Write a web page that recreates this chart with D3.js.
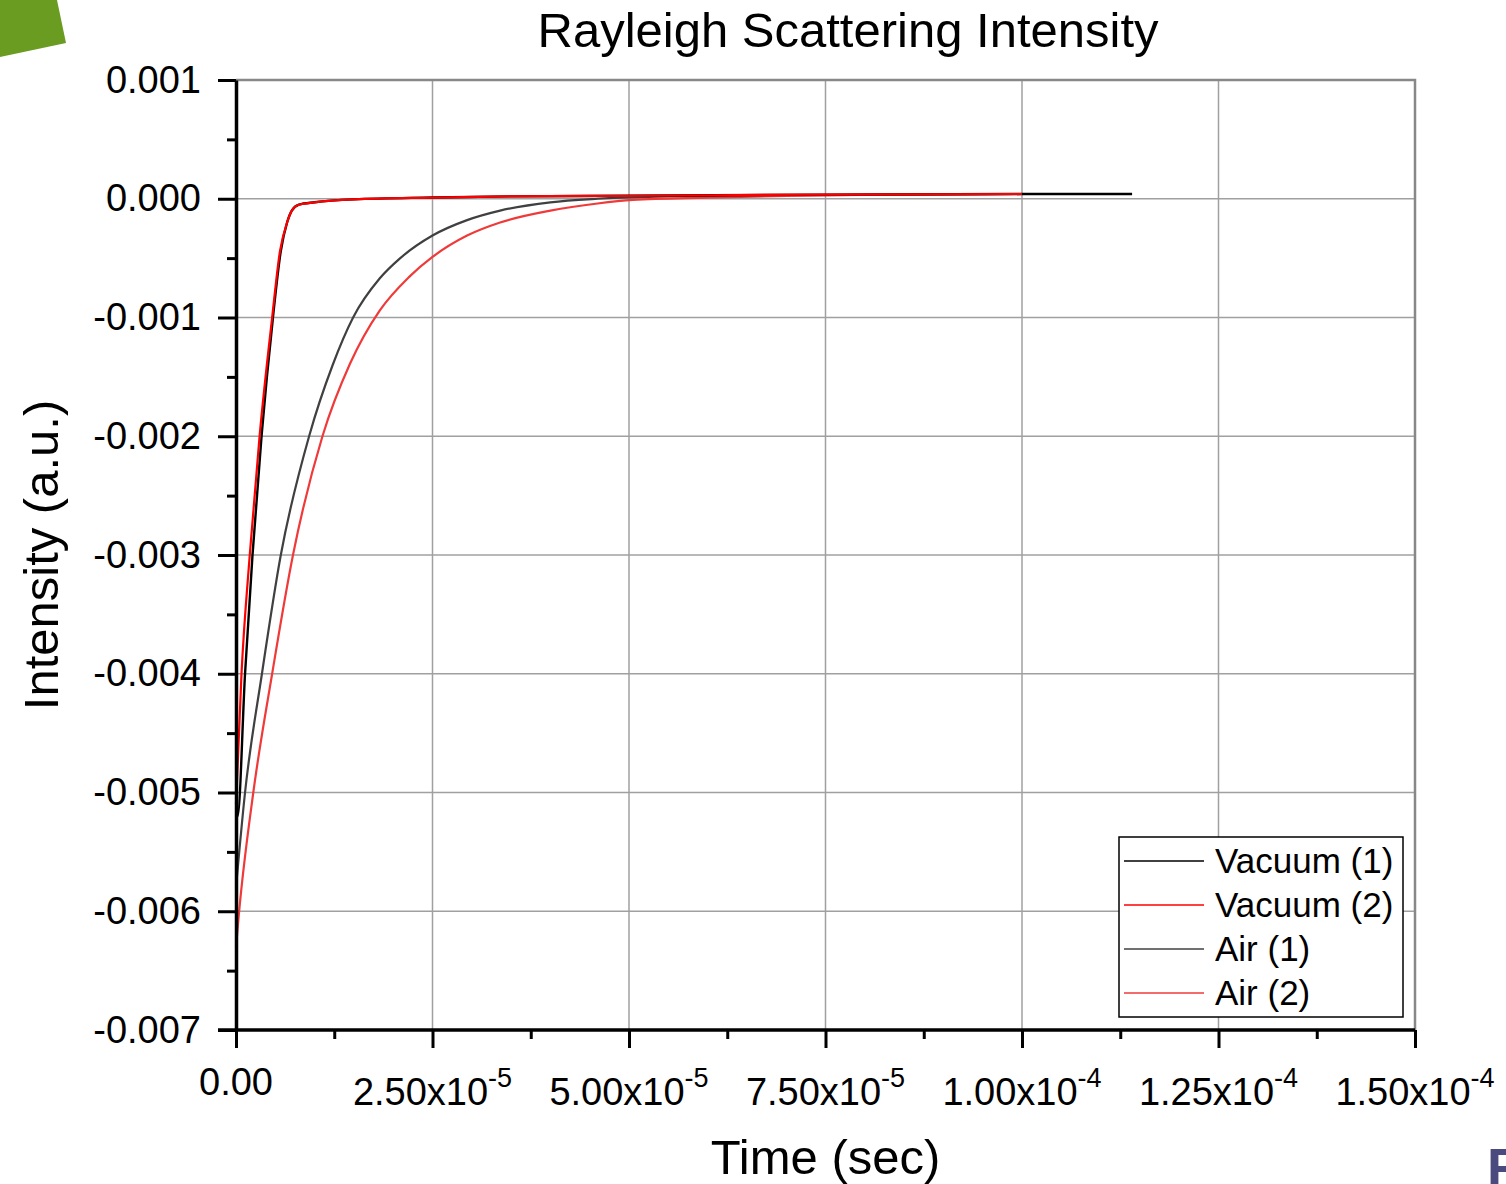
<!DOCTYPE html>
<html>
<head>
<meta charset="utf-8">
<script src="https://cdn.jsdelivr.net/npm/d3@7"></script>
<style>
  html, body { margin: 0; padding: 0; background: #fff; }
  svg { display: block; font-family: "Liberation Sans", Arial, sans-serif; }
</style>
</head>
<body>
<svg id="chart" width="1506" height="1184"></svg>
<script>
// ---------- data ----------
const seriesNames = ["Vacuum (1)", "Vacuum (2)", "Air (1)", "Air (2)"];
const seriesColors = ["#000000", "#ff0000", "#404040", "#f03a3a"];

const vac1Time = [0, 0.2e-6, 1.15e-6, 2.1e-6, 3.25e-6, 4.7e-6, 5.7e-6, 6.5e-6, 7.1e-6, 8.0e-6, 1.0e-5, 1.5e-5, 2.5e-5, 3.5e-5, 5.0e-5, 7.5e-5, 1.0e-4, 1.14e-4];
const vac1Val  = [-0.0052, -0.0052, -0.0040, -0.0030, -0.0020, -0.0010, -0.00044, -0.0002, -0.0001, -0.00005, -0.00003, -0.000005, 0.00001, 0.00002, 0.000025, 0.000035, 0.00004, 0.00004];

const vac2Time = [0, 0.7e-6, 1.75e-6, 3.0e-6, 4.6e-6, 5.6e-6, 6.5e-6, 7.1e-6, 8.0e-6, 1.0e-5, 1.5e-5, 2.5e-5, 3.5e-5, 5.0e-5, 7.5e-5, 1.0e-4];
const vac2Val  = [-0.0051, -0.0040, -0.0030, -0.0020, -0.0010, -0.00044, -0.0002, -0.0001, -0.00005, -0.00003, -0.000005, 0.00001, 0.00002, 0.000025, 0.000035, 0.00004];

const air1Time = [0, 1.15e-6, 3.3e-6, 5.7e-6, 9.3e-6, 1.23e-5, 1.49e-5, 1.83e-5, 2.09e-5, 2.5e-5, 2.94e-5, 3.36e-5, 4.0e-5, 4.6e-5, 5.5e-5, 7.5e-5, 1.0e-4, 1.14e-4];
const air1Val  = [-0.0058, -0.0050, -0.0040, -0.0030, -0.0020, -0.00140, -0.0010, -0.00067, -0.00050, -0.00031, -0.00018, -0.00010, -0.00003, 0.0, 0.00002, 0.00003, 0.00004, 0.00004];

const air2Time = [0, 0.4e-6, 2.2e-6, 4.6e-6, 7.25e-6, 1.1e-5, 1.45e-5, 1.83e-5, 2.2e-5, 2.5e-5, 2.94e-5, 3.36e-5, 4.0e-5, 4.6e-5, 5.05e-5, 6.0e-5, 7.5e-5, 1.0e-4, 1.14e-4];
const air2Val  = [-0.0063, -0.0060, -0.0050, -0.0040, -0.0030, -0.0020, -0.00139, -0.00094, -0.00066, -0.00049, -0.00031, -0.00020, -0.00010, -0.00004, -0.00001, 0.00001, 0.00003, 0.00004, 0.00004];

const yTicks = [0.001, 0, -0.001, -0.002, -0.003, -0.004, -0.005, -0.006, -0.007];
const yTickLabels = ["0.001", "0.000", "-0.001", "-0.002", "-0.003", "-0.004", "-0.005", "-0.006", "-0.007"];
const yMinorTicks = [0.0005, -0.0005, -0.0015, -0.0025, -0.0035, -0.0045, -0.0055, -0.0065];
const xTicks = [0, 2.5e-5, 5.0e-5, 7.5e-5, 1.0e-4, 1.25e-4, 1.5e-4];
const xTickMantissa = ["0.00", "2.50x10", "5.00x10", "7.50x10", "1.00x10", "1.25x10", "1.50x10"];
const xTickExponent = ["", "-5", "-5", "-5", "-4", "-4", "-4"];
const xMinorTicks = [1.25e-5, 3.75e-5, 6.25e-5, 8.75e-5, 1.125e-4, 1.375e-4];

const titleText = "Rayleigh Scattering Intensity";
const xLabelText = "Time (sec)";
const yLabelText = "Intensity (a.u.)";

// ---------- layout ----------
const L = 236, R = 1415, T = 80, B = 1030;
const svg = d3.select("#chart");

const x = d3.scaleLinear().domain([0, 1.5e-4]).range([L, R]);
const y = d3.scaleLinear().domain([-0.007, 0.001]).range([B, T]);

// decorative green corner shape
svg.append("polygon")
  .attr("points", "0,0 57,0 66,43 0,57")
  .attr("fill", "#6a9c22");

// grid
const grid = svg.append("g");
grid.selectAll("line.v").data(xTicks.slice(1)).join("line")
  .attr("x1", d => x(d)).attr("x2", d => x(d))
  .attr("y1", T).attr("y2", B)
  .attr("stroke", "#a0a0a0").attr("stroke-width", 1.5);
grid.selectAll("line.h").data(yTicks.slice(0, -1)).join("line")
  .attr("x1", L).attr("x2", R)
  .attr("y1", d => y(d)).attr("y2", d => y(d))
  .attr("stroke", "#a0a0a0").attr("stroke-width", 1.5);
// top & right frame
svg.append("path")
  .attr("d", `M${L},${T}H${R}V${B}`)
  .attr("fill", "none").attr("stroke", "#888").attr("stroke-width", 2.5);

// series
const lineGen = d3.line().x(d => x(d[0])).y(d => y(d[1])).curve(d3.curveMonotoneX);
const zip = (a, b) => a.map((t, i) => [t, b[i]]);
const series = [
  { name: seriesNames[2], data: zip(air1Time, air1Val), color: seriesColors[2], w: 2.2 },
  { name: seriesNames[3], data: zip(air2Time, air2Val), color: seriesColors[3], w: 2.2 },
  { name: seriesNames[0], data: zip(vac1Time, vac1Val), color: seriesColors[0], w: 2.4 },
  { name: seriesNames[1], data: zip(vac2Time, vac2Val), color: seriesColors[1], w: 2.2 }
];
svg.append("g").selectAll("path").data(series).join("path")
  .attr("d", d => lineGen(d.data))
  .attr("fill", "none")
  .attr("stroke", d => d.color)
  .attr("stroke-width", d => d.w)
  .attr("stroke-linejoin", "round");

// y axis
const yAxis = d3.axisLeft(y).tickValues(yTicks).tickSize(18).tickSizeOuter(0)
  .tickFormat((d, i) => yTickLabels[i]).tickPadding(17);
const gy = svg.append("g").attr("transform", `translate(${L},0)`).call(yAxis);
gy.select(".domain").attr("stroke", "#000").attr("stroke-width", 3.5);
gy.selectAll(".tick line").attr("stroke", "#000").attr("stroke-width", 3);
gy.selectAll(".tick text").attr("font-size", 38).attr("fill", "#000")
  .attr("font-family", "'Liberation Sans', Arial, sans-serif");
const gyMinor = d3.axisLeft(y).tickValues(yMinorTicks).tickSize(9).tickSizeOuter(0).tickFormat("");
const gym = svg.append("g").attr("transform", `translate(${L},0)`).call(gyMinor);
gym.select(".domain").remove();
gym.selectAll(".tick line").attr("stroke", "#000").attr("stroke-width", 3);

// x axis
const xAxis = d3.axisBottom(x).tickValues(xTicks).tickSize(18).tickSizeOuter(0).tickFormat("");
const gx = svg.append("g").attr("transform", `translate(0,${B})`).call(xAxis);
gx.select(".domain").attr("stroke", "#000").attr("stroke-width", 3.5)
  .attr("d", `M${L - 18},0H${R}`);
gx.selectAll(".tick line").attr("stroke", "#000").attr("stroke-width", 3);
const xMinor = d3.axisBottom(x).tickValues(xMinorTicks).tickSize(9).tickSizeOuter(0).tickFormat("");
const gxm = svg.append("g").attr("transform", `translate(0,${B})`).call(xMinor);
gxm.select(".domain").remove();
gxm.selectAll(".tick line").attr("stroke", "#000").attr("stroke-width", 3);

// x tick labels with superscripts
const xl = svg.append("g").attr("font-size", 38).attr("fill", "#000");
xTicks.forEach((t, i) => {
  const txt = xl.append("text")
    .attr("x", x(t))
    .attr("y", xTickExponent[i] ? 1105 : 1095)
    .attr("text-anchor", "middle");
  txt.append("tspan").text(xTickMantissa[i]);
  if (xTickExponent[i]) {
    txt.append("tspan").attr("font-size", 27).attr("dy", -18).text(xTickExponent[i]);
  }
});

// title & axis labels
svg.append("text").attr("x", 848).attr("y", 47).attr("text-anchor", "middle")
  .attr("font-size", 49).attr("fill", "#000").text(titleText);
svg.append("text").attr("x", (L + R) / 2).attr("y", 1174).attr("text-anchor", "middle")
  .attr("font-size", 49).attr("fill", "#000").text(xLabelText);
svg.append("text").attr("transform", `translate(58,${(T + B) / 2}) rotate(-90)`)
  .attr("text-anchor", "middle").attr("font-size", 49).attr("fill", "#000").text(yLabelText);

// legend
const lg = svg.append("g");
lg.append("rect").attr("x", 1119).attr("y", 837).attr("width", 284).attr("height", 180)
  .attr("fill", "#fff").attr("stroke", "#000").attr("stroke-width", 1.5);
const legendOrder = [0, 1, 2, 3];
legendOrder.forEach((si, i) => {
  const cy = 861 + i * 44;
  lg.append("line").attr("x1", 1124).attr("x2", 1204).attr("y1", cy).attr("y2", cy)
    .attr("stroke", seriesColors[si]).attr("stroke-width", 1.5);
  lg.append("text").attr("x", 1215).attr("y", cy + 12).attr("font-size", 35)
    .attr("fill", "#000").text(seriesNames[si]);
});

// partial letter at bottom-right edge (slide artefact, cut by the page edge as in the source)
svg.append("text").attr("x", 1487).attr("y", 1186).attr("font-size", 54)
  .attr("font-weight", "bold").attr("fill", "#4a4a7e").text("F");
</script>
</body>
</html>
